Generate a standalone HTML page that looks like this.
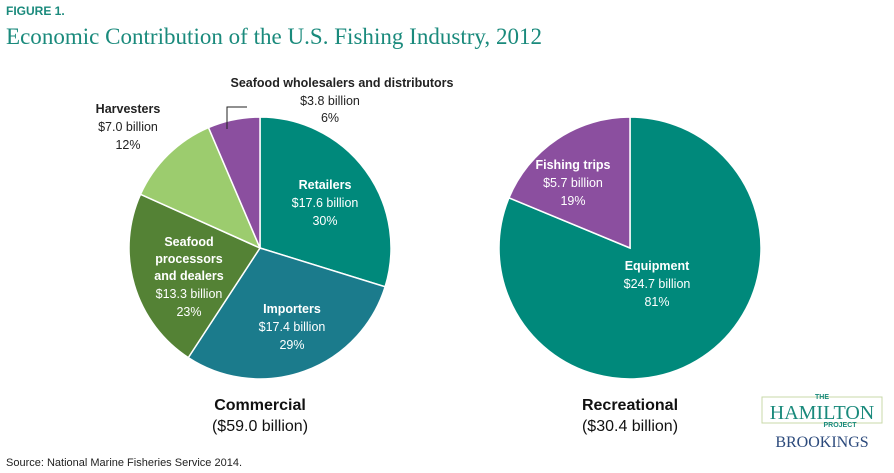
<!DOCTYPE html>
<html><head><meta charset="utf-8"><style>
body{margin:0;background:#fff;}
svg{display:block;font-family:"Liberation Sans",sans-serif;}
</style></head><body>
<svg width="894" height="473" viewBox="0 0 894 473">
<text x="6" y="15" font-size="12" font-weight="bold" fill="#1a8a7c">FIGURE 1.</text>
<text x="6" y="44" font-size="23" font-family="Liberation Serif,serif" fill="#1a8a7c" textLength="536">Economic Contribution of the U.S. Fishing Industry, 2012</text>
<g id="pies"></g>
<polyline points="227,129 227,107 247,107" fill="none" stroke="#222" stroke-width="1"/>
<g font-size="12.5" text-anchor="middle" fill="#222">
<text x="342" y="87" font-weight="bold">Seafood wholesalers and distributors</text>
<text x="330" y="105">$3.8 billion</text>
<text x="330" y="122">6%</text>
<text x="128" y="113" font-weight="bold">Harvesters</text>
<text x="128" y="131">$7.0 billion</text>
<text x="128" y="149">12%</text>
</g>
<g font-size="12.5" text-anchor="middle" fill="#fff">
<text x="325" y="189" font-weight="bold">Retailers</text>
<text x="325" y="207">$17.6 billion</text>
<text x="325" y="225">30%</text>
<text x="292" y="313" font-weight="bold">Importers</text>
<text x="292" y="331">$17.4 billion</text>
<text x="292" y="349">29%</text>
<text x="189" y="246" font-weight="bold">Seafood</text>
<text x="189" y="263" font-weight="bold">processors</text>
<text x="189" y="280" font-weight="bold">and dealers</text>
<text x="189" y="298">$13.3 billion</text>
<text x="189" y="316">23%</text>
<text x="573" y="169" font-weight="bold">Fishing trips</text>
<text x="573" y="187">$5.7 billion</text>
<text x="573" y="205">19%</text>
<text x="657" y="270" font-weight="bold">Equipment</text>
<text x="657" y="288">$24.7 billion</text>
<text x="657" y="306">81%</text>
</g>
<g text-anchor="middle" fill="#111" font-size="16">
<text x="260" y="410" font-weight="bold">Commercial</text>
<text x="260" y="431">($59.0 billion)</text>
<text x="630" y="410" font-weight="bold">Recreational</text>
<text x="630" y="431">($30.4 billion)</text>
</g>
<text x="6" y="466" font-size="11" fill="#222">Source: National Marine Fisheries Service 2014.</text>
<g>
<rect x="762" y="397" width="120" height="26" fill="none" stroke="#c9d9a8" stroke-width="1"/>
<text x="822" y="399" font-size="7" text-anchor="middle" fill="#1a8a7c" font-weight="bold">THE</text>
<text x="822" y="419" font-size="20" text-anchor="middle" fill="#1a8a7c" font-family="Liberation Serif,serif">HAMILTON</text>
<text x="840" y="427" font-size="7" text-anchor="middle" fill="#1a8a7c" font-weight="bold">PROJECT</text>
<text x="822" y="447" font-size="16" text-anchor="middle" fill="#2c4a7c" font-family="Liberation Serif,serif">BROOKINGS</text>
</g>
</svg>
<script>
const commercialCats=["Retailers","Importers","Seafood processors and dealers","Harvesters","Seafood wholesalers and distributors"];
const commercialVals=[17.6,17.4,13.3,7.0,3.8];
const recreationalCats=["Equipment","Fishing trips"];
const recreationalVals=[24.7,5.7];
const commercialColors=["#00897b","#1b7b8c","#548235","#9ccc6e","#8b4f9f"];
const recreationalColors=["#00897b","#8b4f9f"];
const NS="http://www.w3.org/2000/svg";
function drawPie(vals,cats,colors,cx,cy,r,prefix){
  const g=document.getElementById("pies");
  const tot=vals.reduce((a,b)=>a+b,0);
  let a0=0;
  vals.forEach((v,i)=>{
    const a1=a0+v/tot*2*Math.PI;
    const x0=cx+r*Math.sin(a0),y0=cy-r*Math.cos(a0);
    const x1=cx+r*Math.sin(a1),y1=cy-r*Math.cos(a1);
    const large=(a1-a0)>Math.PI?1:0;
    const p=document.createElementNS(NS,"path");
    p.setAttribute("d",`M${cx},${cy} L${x0},${y0} A${r},${r} 0 ${large} 1 ${x1},${y1} Z`);
    p.setAttribute("fill",colors[i]);
    p.setAttribute("stroke","#fff");
    p.setAttribute("stroke-width","1.5");
    
    
    g.appendChild(p);
    a0=a1;
  });
}
drawPie(commercialVals,commercialCats,commercialColors,260,248,131,"commercial");
drawPie(recreationalVals,recreationalCats,recreationalColors,630,248,131,"recreational");
</script>
</body></html>
